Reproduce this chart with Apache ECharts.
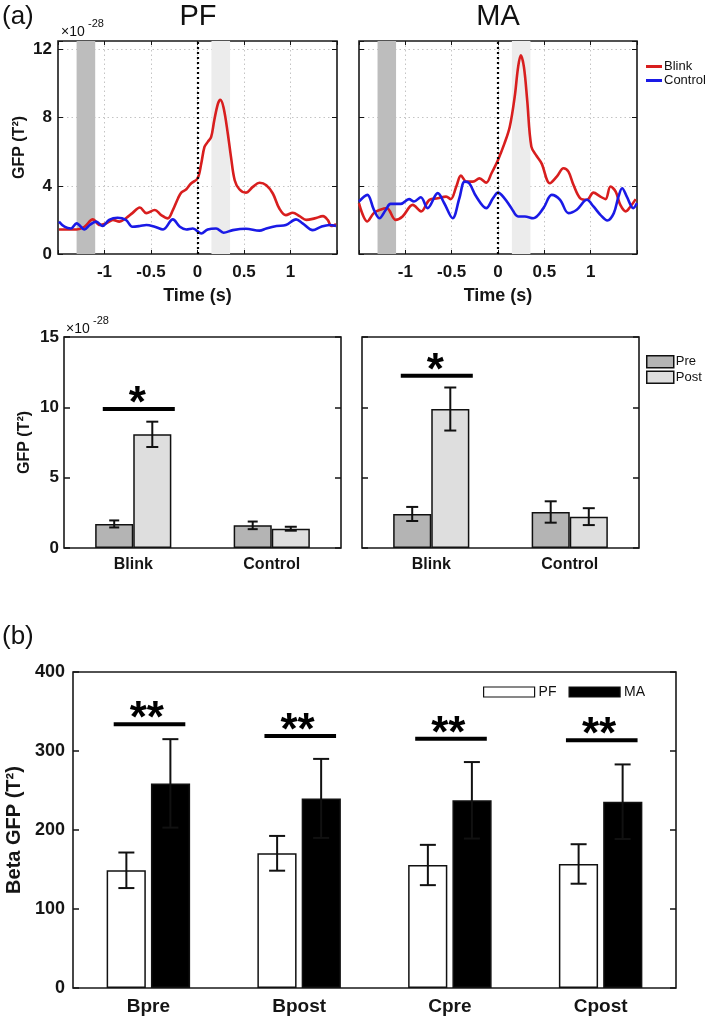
<!DOCTYPE html>
<html><head><meta charset="utf-8">
<script src="https://cdn.jsdelivr.net/npm/echarts@6/dist/echarts.min.js"></script>
<style>html,body{margin:0;padding:0;background:#fff}#c{width:709px;height:1016px}</style>
</head><body><div id="c"></div>
<script>
// ---------- DATA ----------
// (a) top: GFP time courses (x10^-28 T^2)
const pfBlinkTime = [-1.49,-1.30,-1.215,-1.125,-1.05,-0.98,-0.91,-0.84,-0.77,-0.70,-0.62,-0.55,-0.46,-0.39,-0.32,-0.265,-0.21,-0.175,-0.12,-0.07,0,0.04,0.075,0.11,0.147,0.18,0.22,0.245,0.28,0.326,0.36,0.40,0.45,0.52,0.595,0.667,0.74,0.81,0.88,0.95,1.025,1.097,1.17,1.26,1.35,1.40,1.44,1.49];
const pfBlinkGfp  = [1.44,1.44,1.6,2.03,1.7,1.8,2.0,1.9,2.1,2.4,2.73,2.4,2.58,2.28,2.09,2.58,3.26,3.6,3.8,4.14,4.43,5.3,6.28,6.58,6.87,7.84,8.82,9.05,8.6,7.06,5.7,4.33,3.8,3.6,3.94,4.18,4.04,3.55,2.67,2.28,2.42,2.22,2.0,2.09,2.22,2.0,1.64,1.76];
const pfControlTime = [-1.49,-1.43,-1.36,-1.30,-1.215,-1.16,-1.09,-1.02,-0.95,-0.86,-0.77,-0.70,-0.62,-0.55,-0.46,-0.37,-0.265,-0.19,-0.12,-0.05,0.04,0.11,0.2,0.28,0.38,0.52,0.667,0.74,0.85,0.95,1.06,1.13,1.24,1.33,1.42,1.49];
const pfControlGfp  = [1.9,1.6,1.5,1.8,1.44,1.7,1.9,1.64,2.0,2.13,2.0,1.6,1.64,1.7,1.6,1.44,2.03,1.6,1.44,1.5,1.2,1.44,1.5,1.25,1.4,1.48,1.37,1.5,1.64,1.7,2.03,1.8,1.4,1.6,1.7,1.64];
const maBlinkTime = [-1.5,-1.41,-1.34,-1.27,-1.20,-1.105,-1.03,-0.92,-0.83,-0.74,-0.65,-0.56,-0.51,-0.45,-0.40,-0.34,-0.27,-0.20,-0.127,-0.07,0,0.07,0.127,0.18,0.217,0.246,0.28,0.315,0.36,0.417,0.47,0.56,0.634,0.707,0.76,0.815,0.888,0.96,1.03,1.105,1.16,1.214,1.27,1.32,1.38,1.43,1.486];
const maBlinkGfp  = [2.98,1.91,2.4,2.6,2.69,2.0,2.2,2.88,2.5,3.18,3.27,3.37,3.22,3.96,4.6,4.25,4.25,4.44,4.19,4.74,5.52,6.49,7.47,9.22,10.97,11.66,10.97,9.03,6.3,5.75,5.32,4.15,4.54,5.03,4.83,4.05,3.27,3.18,3.6,3.37,3.22,3.96,3.66,2.88,2.5,2.79,3.22];
const maControlTime = [-1.5,-1.41,-1.34,-1.28,-1.21,-1.16,-1.05,-0.96,-0.906,-0.833,-0.76,-0.65,-0.58,-0.49,-0.417,-0.36,-0.31,-0.235,-0.127,-0.054,0,0.07,0.145,0.217,0.29,0.38,0.49,0.58,0.67,0.76,0.85,0.96,1.03,1.105,1.18,1.25,1.30,1.34,1.39,1.46,1.5];
const maControlGfp  = [3.08,3.47,2.6,2.1,2.6,2.94,2.94,3.22,3.08,3.33,2.69,3.57,2.98,2.1,3.27,4.25,4.15,3.37,2.69,3.27,3.6,3.27,2.69,2.2,2.2,2.1,2.69,3.47,3.18,2.4,2.6,3.18,2.79,2.3,1.97,2.4,3.37,3.86,3.37,2.69,2.98];
const preWindow  = [-1.3, -1.1];
const postWindow = [0.15, 0.35];
const timeTicks = [-1, -0.5, 0, 0.5, 1];

// (a) bottom: mean GFP pre/post (x10^-28 T^2)
const barCategories = ['Blink', 'Control'];
const pfPre  = [1.71, 1.61];  const pfPreErr  = [0.25, 0.27];
const pfPost = [8.08, 1.37];  const pfPostErr = [0.90, 0.14];
const maPre  = [2.42, 2.56];  const maPreErr  = [0.50, 0.76];
const maPost = [9.88, 2.23];  const maPostErr = [1.53, 0.60];
const pfSig = [9.88];  const maSig = [12.24];

// (b) Beta GFP
const betaCategories = ['Bpre', 'Bpost', 'Cpre', 'Cpost'];
const betaPF    = [149, 170.5, 155.7, 157];
const betaPFErr = [22.5, 22, 25.5, 25];
const betaMA    = [259, 240, 237.6, 235.8];
const betaMAErr = [56, 50, 48.4, 47.2];
const betaSig   = [334, 319, 315.5, 313.5];

// ---------- HELPERS ----------
const FONT = '"Liberation Sans", Arial, Helvetica, sans-serif';
const INK = '#151515';
const zip = (a, b) => a.map((x, i) => [x, b[i]]);
const errData = (v, e) => v.map((x, i) => [i, x, e[i]]);
const dotted = { type: [1.5, 3], color: '#c4c4c4', width: 1 };

function timeAxis(grid, pos, labels, name) {
  return {
    type: 'value', gridIndex: grid, position: pos, min: -1.5, max: 1.5, interval: 0.5,
    axisLine: { show: false, onZero: false },
    axisTick: { show: true, inside: true, length: 4, lineStyle: { color: INK, width: 1 } },
    axisLabel: {
      show: labels, margin: 10, color: INK, fontFamily: FONT, fontWeight: 'bold', fontSize: 17,
      formatter: v => timeTicks.some(t => Math.abs(t - v) < 1e-9) ? String(v) : ''
    },
    splitLine: { show: pos === 'bottom', showMinLine: false, showMaxLine: false, lineStyle: dotted },
    name: name || '', nameLocation: 'middle', nameGap: 33,
    nameTextStyle: { color: INK, fontFamily: FONT, fontWeight: 'bold', fontSize: 18 }
  };
}
function gfpAxis(grid, pos, labels, name) {
  return {
    type: 'value', gridIndex: grid, position: pos, min: 0, max: 12.5, interval: 4,
    axisLine: { show: false, onZero: false },
    axisTick: { show: true, inside: true, length: 5, lineStyle: { color: INK, width: 1 } },
    axisLabel: {
      show: labels, margin: 6, color: INK, fontFamily: FONT, fontWeight: 'bold', fontSize: 17,
      formatter: v => (v % 4 === 0) ? String(v) : ''
    },
    splitLine: { show: pos === 'left', showMinLine: false, showMaxLine: false, lineStyle: dotted },
    name: name || '', nameLocation: 'middle', nameGap: 30, nameRotate: 90,
    nameTextStyle: { color: INK, fontFamily: FONT, fontWeight: 'bold', fontSize: 16 }
  };
}
function catAxis(grid, data, fs, margin) {
  return {
    type: 'category', gridIndex: grid, data: data,
    axisLine: { show: false, onZero: false }, axisTick: { show: false },
    axisLabel: { margin: margin, color: INK, fontFamily: FONT, fontWeight: 'bold', fontSize: fs },
    splitLine: { show: false }
  };
}
function valAxis(grid, pos, max, interval, labels, fs, margin, name, nameGap, nameFs) {
  return {
    type: 'value', gridIndex: grid, position: pos, min: 0, max: max, interval: interval,
    axisLine: { show: false, onZero: false },
    axisTick: { show: true, inside: true, length: 6, lineStyle: { color: INK, width: 1.5 } },
    axisLabel: { show: labels, margin: margin, color: INK, fontFamily: FONT, fontWeight: 'bold', fontSize: fs },
    splitLine: { show: false },
    name: name || '', nameLocation: 'middle', nameGap: nameGap || 30, nameRotate: 90,
    nameTextStyle: { color: INK, fontFamily: FONT, fontWeight: 'bold', fontSize: nameFs || 16 }
  };
}
function errRender(offFrac, cap) {
  return function (params, api) {
    const i = api.value(0), v = api.value(1), e = api.value(2);
    const w = api.size([1, 0])[0];
    const c = api.coord([i, v]);
    const x = c[0] + offFrac * w;
    const yt = api.coord([i, v + e])[1], yb = api.coord([i, v - e])[1];
    const st = { stroke: '#111', lineWidth: 2 };
    return { type: 'group', children: [
      { type: 'line', shape: { x1: x, y1: yt, x2: x, y2: yb }, style: st },
      { type: 'line', shape: { x1: x - cap, y1: yt, x2: x + cap, y2: yt }, style: st },
      { type: 'line', shape: { x1: x - cap, y1: yb, x2: x + cap, y2: yb }, style: st }
    ] };
  };
}
function sigRender(l, r, sx, star, fs) {
  return function (params, api) {
    const i = api.value(0), v = api.value(1);
    const w = api.size([1, 0])[0];
    const c = api.coord([i, v]);
    return { type: 'group', children: [
      { type: 'line', shape: { x1: c[0] + l * w, y1: c[1], x2: c[0] + r * w, y2: c[1] },
        style: { stroke: '#000', lineWidth: 4 } },
      { type: 'text', x: c[0] + sx * w, y: c[1] - 4,
        style: { text: star, fill: '#000', fontFamily: FONT, fontWeight: 'bold', fontSize: fs,
                 align: 'center', verticalAlign: 'middle' } }
    ] };
  };
}
function lineSeries(name, xi, yi, t, v, color, marks) {
  const s = {
    type: 'line', name: name, xAxisIndex: xi, yAxisIndex: yi, data: zip(t, v),
    smooth: 0.35, showSymbol: false, symbol: 'none', color: color,
    lineStyle: { color: color, width: 2.6 }, z: 3, silent: true
  };
  if (marks) {
    s.markArea = { silent: true, z: 1, data: [
      [{ xAxis: preWindow[0], itemStyle: { color: '#bdbdbd' } }, { xAxis: preWindow[1] }],
      [{ xAxis: postWindow[0], itemStyle: { color: '#ececec' } }, { xAxis: postWindow[1] }]
    ] };
    s.markLine = { silent: true, symbol: 'none', label: { show: false },
      lineStyle: { type: [2, 3], color: '#000', width: 2.2 }, data: [{ xAxis: 0 }] };
  }
  return s;
}
function barSeries(name, xi, yi, data, color, bw, gap) {
  return { type: 'bar', name: name, xAxisIndex: xi, yAxisIndex: yi, data: data,
    barWidth: bw, barGap: gap, itemStyle: { color: color, borderColor: '#111', borderWidth: 1.5 },
    z: 2, silent: true };
}
function errSeries(xi, yi, v, e, off, cap) {
  return { type: 'custom', xAxisIndex: xi, yAxisIndex: yi, data: errData(v, e),
    encode: { x: 0, y: 1 }, renderItem: errRender(off, cap), z: 4, silent: true };
}
function sigSeries(xi, yi, idx, vals, l, r, sx, star, fs) {
  return { type: 'custom', xAxisIndex: xi, yAxisIndex: yi, data: vals.map((v, k) => [idx[k], v]),
    encode: { x: 0, y: 1 }, renderItem: sigRender(l, r, sx, star, fs), z: 4, silent: true };
}

const gridStyle = { show: true, borderColor: '#1a1a1a', borderWidth: 1.6, backgroundColor: 'transparent',
  containLabel: false, outerBoundsMode: 'none' };
const txt = (text, x, y, fs, weight, align) => ({ type: 'text', x: x, y: y, silent: true,
  style: { text: text, fill: '#111', fontFamily: FONT, fontSize: fs, fontWeight: weight || 'normal',
           align: align || 'left', verticalAlign: 'middle' } });

const option = {
  backgroundColor: '#fff',
  animation: false,
  grid: [
    Object.assign({ left: 58, top: 41, width: 279, height: 213 }, gridStyle),
    Object.assign({ left: 359, top: 41, width: 278, height: 213 }, gridStyle),
    Object.assign({ left: 64, top: 337, width: 277, height: 211 }, gridStyle),
    Object.assign({ left: 362, top: 337, width: 277, height: 211 }, gridStyle),
    Object.assign({ left: 73, top: 672, width: 603, height: 316 }, gridStyle)
  ],
  xAxis: [
    timeAxis(0, 'bottom', true, 'Time (s)'),
    timeAxis(0, 'top', false),
    timeAxis(1, 'bottom', true, 'Time (s)'),
    timeAxis(1, 'top', false),
    catAxis(2, barCategories, 16, 9),
    catAxis(3, barCategories, 16, 9),
    catAxis(4, betaCategories, 19, 9)
  ],
  yAxis: [
    gfpAxis(0, 'left', true, 'GFP (T²)'),
    gfpAxis(0, 'right', false),
    gfpAxis(1, 'left', false),
    gfpAxis(1, 'right', false),
    valAxis(2, 'left', 15, 5, true, 17, 5, 'GFP (T²)', 31, 16),
    valAxis(2, 'right', 15, 5, false, 17, 5),
    valAxis(3, 'left', 15, 5, false, 17, 5),
    valAxis(3, 'right', 15, 5, false, 17, 5),
    valAxis(4, 'left', 400, 100, true, 18, 8, 'Beta GFP (T²)', 48, 20),
    valAxis(4, 'right', 400, 100, false, 18, 8)
  ],
  legend: [
    { data: ['Blink', 'Control'], orient: 'vertical', left: 646, top: 60, padding: 0, itemGap: 1,
      icon: 'rect', itemWidth: 16, itemHeight: 3, selectedMode: false,
      textStyle: { fontFamily: FONT, fontSize: 13, color: '#111', padding: [0, 0, 0, -3] } },
    { data: ['Pre', 'Post'], orient: 'vertical', left: 646, top: 355, padding: 0, itemGap: 2,
      icon: 'rect', itemWidth: 27, itemHeight: 12, selectedMode: false,
      itemStyle: { borderColor: '#111', borderWidth: 1.5 },
      textStyle: { fontFamily: FONT, fontSize: 13, color: '#111', padding: [0, 0, 0, -3] } },
    { data: ['PF', 'MA'], orient: 'horizontal', left: 483, top: 685, padding: 0, itemGap: 12,
      icon: 'rect', itemWidth: 51, itemHeight: 10, selectedMode: false,
      itemStyle: { borderColor: '#111', borderWidth: 1.2 },
      textStyle: { fontFamily: FONT, fontSize: 14, color: '#111', padding: [0, 0, 0, -1] } }
  ],
  series: [
    lineSeries('Blink', 0, 0, pfBlinkTime, pfBlinkGfp, '#d81e1e', true),
    lineSeries('Control', 0, 0, pfControlTime, pfControlGfp, '#1a1ae6', false),
    lineSeries('Blink', 2, 2, maBlinkTime, maBlinkGfp, '#d81e1e', true),
    lineSeries('Control', 2, 2, maControlTime, maControlGfp, '#1a1ae6', false),

    barSeries('Pre', 4, 4, pfPre, '#b4b4b4', '27.5%', '0%'),
    barSeries('Post', 4, 4, pfPost, '#dedede', '27.5%', '0%'),
    errSeries(4, 4, pfPre, pfPreErr, -0.1375, 5),
    errSeries(4, 4, pfPost, pfPostErr, 0.1375, 6),
    sigSeries(4, 4, [0], pfSig, -0.22, 0.30, 0.03, '*', 44),

    barSeries('Pre', 5, 6, maPre, '#b4b4b4', '27.5%', '0%'),
    barSeries('Post', 5, 6, maPost, '#dedede', '27.5%', '0%'),
    errSeries(5, 6, maPre, maPreErr, -0.1375, 6),
    errSeries(5, 6, maPost, maPostErr, 0.1375, 6),
    sigSeries(5, 6, [0], maSig, -0.22, 0.30, 0.03, '*', 44),

    barSeries('PF', 6, 8, betaPF, '#ffffff', '26%', '13%'),
    barSeries('MA', 6, 8, betaMA, '#000000', '26%', '13%'),
    errSeries(6, 8, betaPF, betaPFErr, -0.146, 8),
    errSeries(6, 8, betaMA, betaMAErr, 0.146, 8),
    sigSeries(6, 8, [0, 1, 2, 3], betaSig, -0.23, 0.245, -0.01, '**', 44)
  ],
  graphic: [
    txt('(a)', 2, 17, 26),
    txt('PF', 198, 17, 29, 'normal', 'center'),
    txt('MA', 498, 17, 29, 'normal', 'center'),
    txt('×10', 61, 32, 14),
    txt('-28', 88, 24, 11),
    txt('×10', 66, 329, 14),
    txt('-28', 93, 321, 11),
    txt('(b)', 2, 637, 26)
  ]
};

const chart = echarts.init(document.getElementById('c'), null, { renderer: 'canvas' });
chart.setOption(option);
</script>
</body></html>
